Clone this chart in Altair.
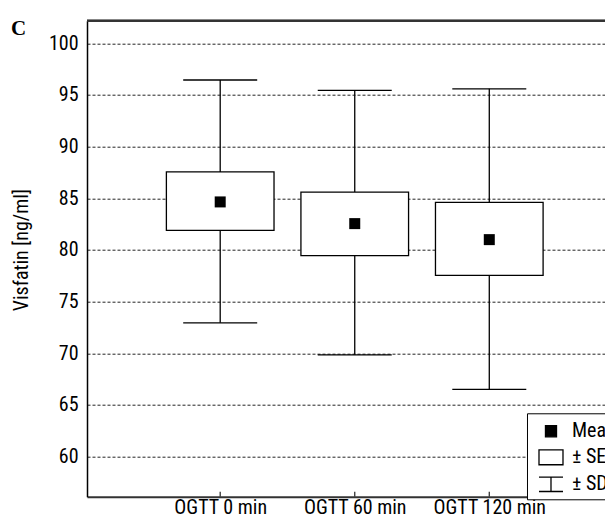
import altair as alt
import pandas as pd

# ---- data ----
categories = ["OGTT 0 min", "OGTT 60 min", "OGTT 120 min"]
positions = [1, 2, 3]
means = [84.65, 82.55, 81.0]
se_low = [81.9, 79.45, 77.55]
se_high = [87.55, 85.6, 84.6]
sd_low = [72.95, 69.85, 66.5]
sd_high = [96.45, 95.45, 95.6]
y_ticks = [60, 65, 70, 75, 80, 85, 90, 95, 100]
legend_labels = ["Mean", "± SE", "± SD"]

FONT = "Liberation Sans Narrow, Roboto Condensed, DejaVu Sans Condensed, sans-serif"
DARK = "#333333"
W, H = 518, 476
FS = 20

df = pd.DataFrame({
    "pos": positions,
    "cat": categories,
    "mean": means,
    "se_low": se_low,
    "se_high": se_high,
    "sd_low": sd_low,
    "sd_high": sd_high,
})
df["box_l"] = df["pos"] - 0.4
df["box_r"] = df["pos"] + 0.4
df["cap_l"] = df["pos"] - 0.275
df["cap_r"] = df["pos"] + 0.275

xscale = alt.Scale(domain=[0.01, 3.86], nice=False, zero=False)
yscale = alt.Scale(domain=[56.12, 102.19], nice=False, zero=False)

label_expr = " : ".join(
    [f"datum.value == {p} ? '{c}'" for p, c in zip(positions, categories)]
) + " : ''"

x_axis = alt.Axis(
    values=positions, labelExpr=label_expr, title=None, ticks=False,
    grid=False, domainColor=DARK, domainWidth=2, labelFont=FONT,
    labelFontSize=FS, labelColor="black", labelPadding=17,
    labelBaseline="alphabetic",
)
y_axis = alt.Axis(
    values=y_ticks, title="Visfatin [ng/ml]", ticks=False, grid=True,
    gridDash=[3, 2], gridColor="#222222", gridWidth=1,
    domainColor="black", domainWidth=1.5, labelFont=FONT, labelFontSize=FS,
    labelColor="black", labelPadding=9, titleFont=FONT, titleFontSize=20,
    titleFontWeight="normal", titleColor="black", titleAngle=-90,
    titleX=-66, titleY=229, titleAlign="center", titleBaseline="middle",
)

base = alt.Chart(df)

axes_layer = base.mark_rule(opacity=0).encode(
    x=alt.X("pos:Q", scale=xscale, axis=x_axis),
    y=alt.Y("mean:Q", scale=yscale, axis=y_axis),
)

top_border = base.mark_rule(color=DARK, strokeWidth=2).encode(
    x=alt.value(0), x2=alt.value(W), y=alt.value(0)
)

whisker = base.mark_rule(color="black", strokeWidth=1.3).encode(
    x="pos:Q", y="sd_low:Q", y2="sd_high:Q"
)
cap_hi = base.mark_rule(color="black", strokeWidth=1.3).encode(
    x="cap_l:Q", x2="cap_r:Q", y="sd_high:Q"
)
cap_lo = base.mark_rule(color="black", strokeWidth=1.3).encode(
    x="cap_l:Q", x2="cap_r:Q", y="sd_low:Q"
)
box = base.mark_rect(fill="white", stroke="black", strokeWidth=1.3).encode(
    x="box_l:Q", x2="box_r:Q", y="se_low:Q", y2="se_high:Q"
)
mean_pt = base.mark_point(shape="square", filled=True, color="black",
                          size=121, opacity=1).encode(
    x="pos:Q", y="mean:Q"
)

ticks_layer = base.mark_rule(color=DARK, strokeWidth=1.3).encode(
    x="pos:Q", y=alt.value(H), y2=alt.value(H - 5)
)

# legend via a dummy layer (no valid y => nothing drawn)
leg_df = pd.DataFrame({"legend": legend_labels, "pos": [1, 2, 3], "yv": [None, None, None]})
shape_paths = [
    "M-0.46,-0.46H0.46V0.46H-0.46Z",
    "M-1,-0.62H1V0.62H-1Z",
    "M-1,-0.6H1M0,-0.6V0.6M-1,0.6H1",
]
leg_common = dict(
    title=None, orient="none", legendX=440, legendY=392.6,
    strokeColor="black", fillColor="white", padding=5,
    symbolStrokeWidth=1.3, symbolSize=576, symbolOpacity=1,
    labelFont=FONT, labelFontSize=FS, labelColor="black", rowPadding=3,
    labelOffset=8, symbolOffset=6,
)
legend_layer = alt.Chart(leg_df).mark_point(
    filled=True, size=576, strokeWidth=1.3, opacity=1
).encode(
    x="pos:Q",
    y="yv:Q",
    shape=alt.Shape("legend:N", scale=alt.Scale(domain=legend_labels, range=shape_paths),
                    legend=alt.Legend(**leg_common)),
    fill=alt.Fill("legend:N", scale=alt.Scale(domain=legend_labels,
                                              range=["black", "white", "white"]),
                  legend=alt.Legend(**leg_common)),
    stroke=alt.Stroke("legend:N", scale=alt.Scale(domain=legend_labels,
                                                  range=["black", "black", "black"]),
                      legend=alt.Legend(**leg_common)),
)

panel_label = alt.Chart(pd.DataFrame({"t": ["C"]})).mark_text(
    font="Liberation Serif", fontSize=21, fontWeight="bold", align="left",
    baseline="alphabetic", color="black"
).encode(text="t:N", x=alt.value(-76), y=alt.value(14.5))

chart = alt.layer(
    axes_layer, top_border, whisker, cap_hi, cap_lo, box, mean_pt,
    ticks_layer, legend_layer, panel_label
).properties(
    width=W, height=H,
    autosize=alt.AutoSizeParams(type="none"),
    padding={"left": 79, "top": 12.7, "right": 0, "bottom": 23},
).configure_view(stroke=None)

chart.save("out.html", embed_options={"renderer": "svg", "actions": False})
